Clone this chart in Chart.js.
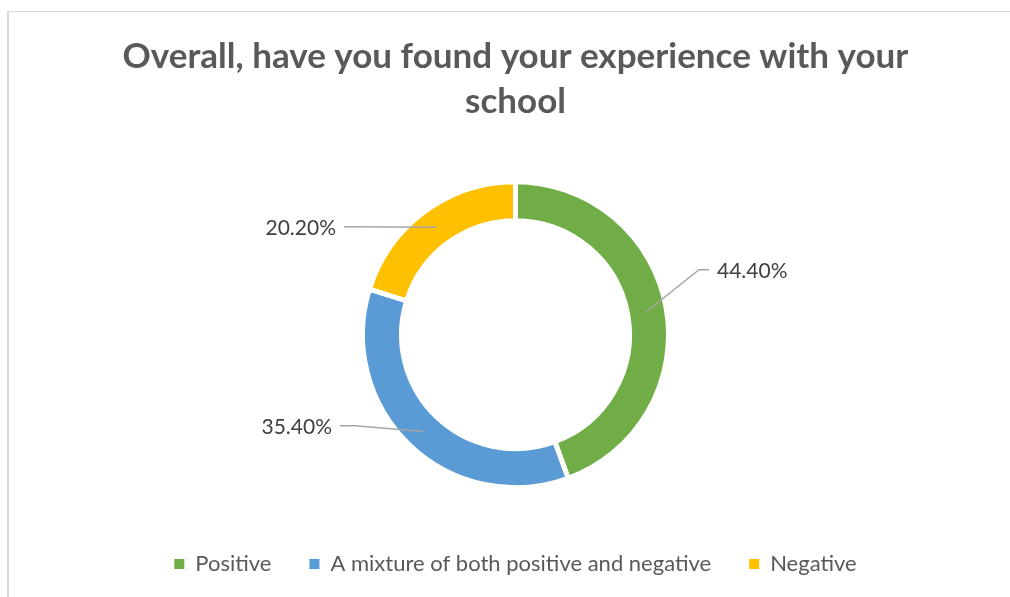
<!DOCTYPE html>
<html>
<head>
<meta charset="utf-8">
<title>School experience</title>
<script src="https://cdn.jsdelivr.net/npm/chart.js@4.4.1/dist/chart.umd.min.js"></script>
<style>
  html, body { margin: 0; padding: 0; background: #fff; }
  #wrap { position: relative; width: 1010px; height: 597px; overflow: hidden; }
  #frame { position: absolute; left: 7px; top: 11px; width: 1100px; height: 700px;
           border-left: 2px solid #d9d9d9; border-top: 1px solid #d9d9d9; }
  #donut { position: absolute; left: 0; top: 0; }
</style>
</head>
<body>
<div id="wrap">
  <div id="frame"></div>
  <canvas id="donut" width="1010" height="597"></canvas>
</div>
<script>
var answers = ["Positive", "A mixture of both positive and negative", "Negative"];
var shares = [44.4, 35.4, 20.2];
var sliceColors = ["#70AD47", "#5B9BD5", "#FFC000"];

// where each leader line bends and ends, relative to the doughnut centre
var leaderSpots = [
  { elbow: [183.5, -65], end: [193.5, -65], side: "right" },
  { elbow: [-160.5, 91], end: [-175.5, 91], side: "left" },
  { elbow: [-165, -108], end: [-171.5, -108], side: "left" }
];

var calloutPlugin = {
  id: "callouts",
  afterDatasetsDraw: function(chart) {
    var ctx = chart.ctx;
    var meta = chart.getDatasetMeta(0);
    ctx.save();
    meta.data.forEach(function(arc, i) {
      var p = arc.getProps(["x", "y", "startAngle", "endAngle", "innerRadius", "outerRadius"], true);
      var mid = (p.startAngle + p.endAngle) / 2;
      var r = (p.innerRadius + p.outerRadius) / 2;
      var ax = p.x + Math.cos(mid) * r;
      var ay = p.y + Math.sin(mid) * r;
      var spot = leaderSpots[i];
      var ex = p.x + spot.elbow[0], ey = p.y + spot.elbow[1];
      var tx = p.x + spot.end[0], ty = p.y + spot.end[1];

      ctx.strokeStyle = "#A6A6A6";
      ctx.lineWidth = 1.5;
      ctx.beginPath();
      ctx.moveTo(ax, ay);
      ctx.lineTo(ex, ey);
      ctx.lineTo(tx, ty);
      ctx.stroke();

      ctx.fillStyle = "#404040";
      ctx.font = "21px Lato";
      ctx.textBaseline = "middle";
      var label = shares[i].toFixed(2) + "%";
      if (spot.side === "right") {
        ctx.textAlign = "left";
        ctx.fillText(label, tx + 8, ty + 2);
      } else {
        ctx.textAlign = "right";
        ctx.fillText(label, tx - 8, ty + 2);
      }
    });
    ctx.restore();
  }
};

var donutChart = new Chart(document.getElementById("donut"), {
  type: "doughnut",
  data: {
    labels: answers,
    datasets: [{
      data: shares,
      backgroundColor: sliceColors,
      borderColor: "#ffffff",
      borderWidth: 5
    }]
  },
  options: {
    responsive: false,
    animation: false,
    radius: 153,
    cutout: "74.5%",
    layout: { padding: { top: 14, left: 21, right: 0, bottom: 12 } },
    plugins: {
      title: {
        display: true,
        text: ["Overall, have you found your experience with your", "school"],
        color: "#595959",
        font: { family: "Lato", size: 35, weight: "bold", lineHeight: 1.29 },
        padding: { top: 20, bottom: 30 }
      },
      legend: {
        position: "bottom",
        labels: {
          color: "#595959",
          font: { family: "Lato", size: 22 },
          boxWidth: 10,
          boxHeight: 10,
          padding: 38,
          // legend squares without the white slice border
          generateLabels: function(chart) {
            var items = Chart.overrides.doughnut.plugins.legend.labels.generateLabels(chart);
            items.forEach(function(item) { item.lineWidth = 0; });
            return items;
          }
        }
      },
      tooltip: { enabled: false }
    }
  },
  plugins: [calloutPlugin]
});
</script>
</body>
</html>
